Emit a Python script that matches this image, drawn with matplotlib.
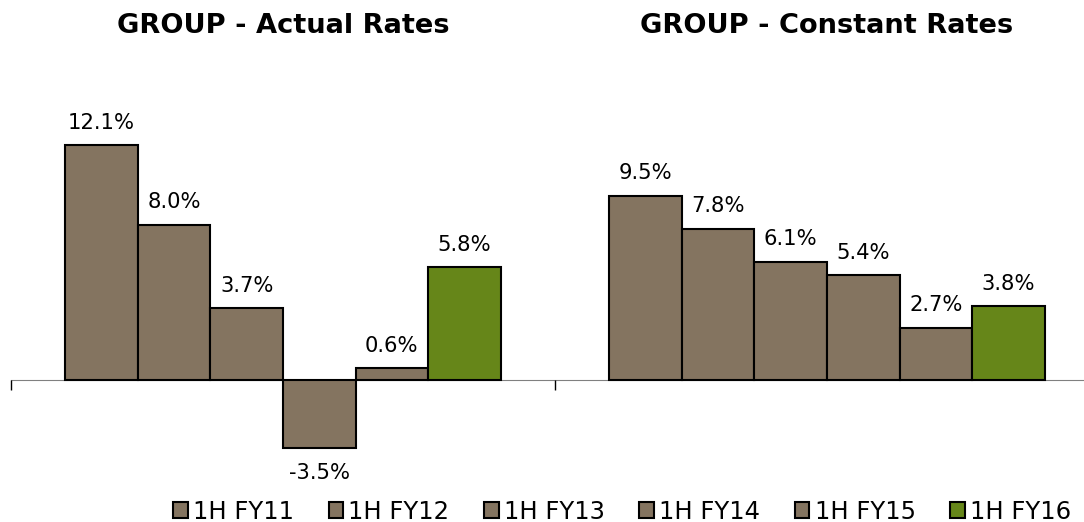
import numpy as np
import matplotlib.pyplot as plt
from matplotlib.patches import Patch

plt.rcParams['font.family'] = ['DejaVu Sans']

# --- data ---
panels = ["GROUP - Actual Rates", "GROUP - Constant Rates"]
periods = ["1H FY11", "1H FY12", "1H FY13", "1H FY14", "1H FY15", "1H FY16"]
actual = [12.1, 8.0, 3.7, -3.5, 0.6, 5.8]
constant = [9.5, 7.8, 6.1, 5.4, 2.7, 3.8]

brown = '#847460'
green = '#668619'
colors = [brown] * 5 + [green]

fig = plt.figure(figsize=(10.84, 5.22), dpi=100)
ax = fig.add_axes([11 / 1084, 0, 1088 / 1084, 1])
ax.set_xlim(-0.5, 1.5)
ax.set_ylim(-7.32, 19.59)

width = 0.8 / 6
for g, vals in enumerate([actual, constant]):
    for i, v in enumerate(vals):
        x = g + (i - 2.5) * width
        ax.bar(x, v, width=width, color=colors[i], edgecolor='black', linewidth=1.5, zorder=3)
        if v >= 0:
            ax.text(x, v + 0.85, f"{v:.1f}%", ha='center', va='baseline', fontsize=15.2)
        else:
            ax.text(x, v - 1.6, f"{v:.1f}%", ha='center', va='baseline', fontsize=15.2)
    ax.text(g, 17.9, panels[g], ha='center', va='baseline', fontsize=19.6, fontweight='bold')

# axis line at zero with downward ticks between groups
for s in ['top', 'right', 'left']:
    ax.spines[s].set_visible(False)
ax.spines['bottom'].set_position(('data', 0))
ax.spines['bottom'].set_color('#808080')
ax.spines['bottom'].set_zorder(1)
ax.set_xticks([-0.5, 0.5, 1.5])
ax.set_xticklabels([])
ax.tick_params(axis='x', direction='out', length=7.5, width=1, color='black')
ax.set_yticks([])

handles = [Patch(facecolor=c, edgecolor='black', linewidth=1.5) for c in colors]
fig.legend(handles, periods, loc='center', bbox_to_anchor=(0.574, 0.02), ncol=6,
           frameon=False, fontsize=17.5, handlelength=0.6, handleheight=0.6,
           handletextpad=0.22, columnspacing=1.42, borderpad=0, borderaxespad=0)

fig.savefig('out.png', dpi=100)
